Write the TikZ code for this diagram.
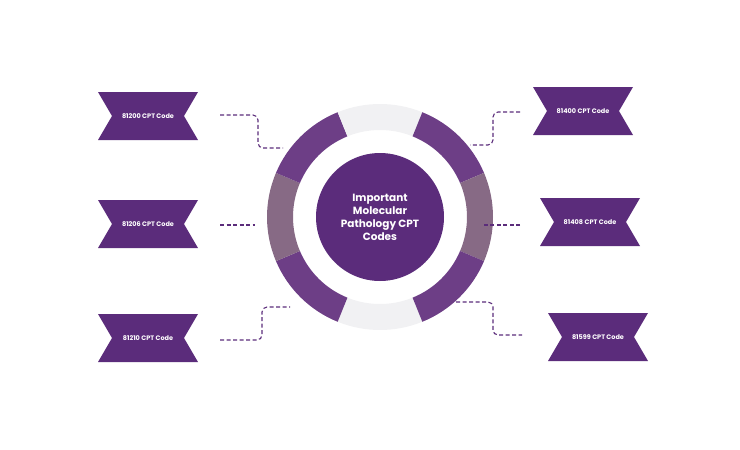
\documentclass[tikz,border=0pt]{standalone}
\usepackage{fontspec}
\setmainfont{Poppins}
\usetikzlibrary{calc}
\begin{document}
\begin{tikzpicture}[x=1pt,y=-1pt,
  ban/.style={fill=pdark,draw=none},
  btxt/.style={text=white,font=\bfseries\fontsize{6.5}{8}\selectfont},
  con/.style={draw=pdark,dashed,line width=1.1pt,dash pattern=on 4pt off 2.5pt,rounded corners=5pt}]
\definecolor{pdark}{HTML}{5B2C7B}
\definecolor{pseg}{HTML}{6D3E86}
\definecolor{pmut}{HTML}{876A85}
\definecolor{gseg}{HTML}{F1F1F3}
\useasboundingbox (0,0) rectangle (740,450);
\coordinate (c) at (380,217);
\foreach \a/\b/\col in {68/112/gseg,112/157/pseg,157/203/pmut,203/248/pseg,248/292/gseg,292/337/pseg,337/383/pmut,23/68/pseg}{
  \fill[\col] ($(c)+(\a:113)$) arc[start angle=\a,end angle=\b,radius=113] -- ($(c)+(\b:87)$) arc[start angle=\b,end angle=\a,radius=87] -- cycle;
}
\node[circle,fill=pdark,minimum size=128pt,inner sep=0pt,align=center,text=white,font=\bfseries\fontsize{10.5}{13}\selectfont] (ctr) at (c) {Important\\Molecular\\Pathology CPT\\Codes};
\newcommand\banner[4]{% name, x, y, text
  \fill[ban] (#2,#3) -- ++(100,0) -- ++(-14,24) -- ++(14,24) -- ++(-100,0) -- ++(14,-24) -- cycle;
  \node[btxt] (#1) at (#2+50,#3+24) {#4};}
\banner{b1}{98}{92}{81200 CPT Code}
\banner{b2}{98}{200}{81206 CPT Code}
\banner{b3}{98}{314}{81210 CPT Code}
\banner{b4}{533}{87}{81400 CPT Code}
\banner{b5}{540}{198}{81408 CPT Code}
\banner{b6}{548}{313}{81599 CPT Code}
\coordinate (e1) at (283,148);\coordinate (e2) at (255,225);\coordinate (e3) at (290,307);
\coordinate (e4) at (470,145);\coordinate (e5) at (483,225);\coordinate (e6) at (456,302);
\coordinate (s1) at (220,115);\coordinate (s2) at (220,225);\coordinate (s3) at (220,340);
\coordinate (s4) at (520,112);\coordinate (s5) at (520,225);\coordinate (s6) at (522,335);
\draw[con] (s1) -| (258,148) -- (e1);
\draw[con] (s2) -- (e2);
\draw[con] (s3) -| (262,307) -- (e3);
\draw[con] (s4) -| (493,145) -- (e4);
\draw[con] (s5) -- (e5);
\draw[con] (e6) -| (493,335) -- (s6);
\end{tikzpicture}
\end{document}
